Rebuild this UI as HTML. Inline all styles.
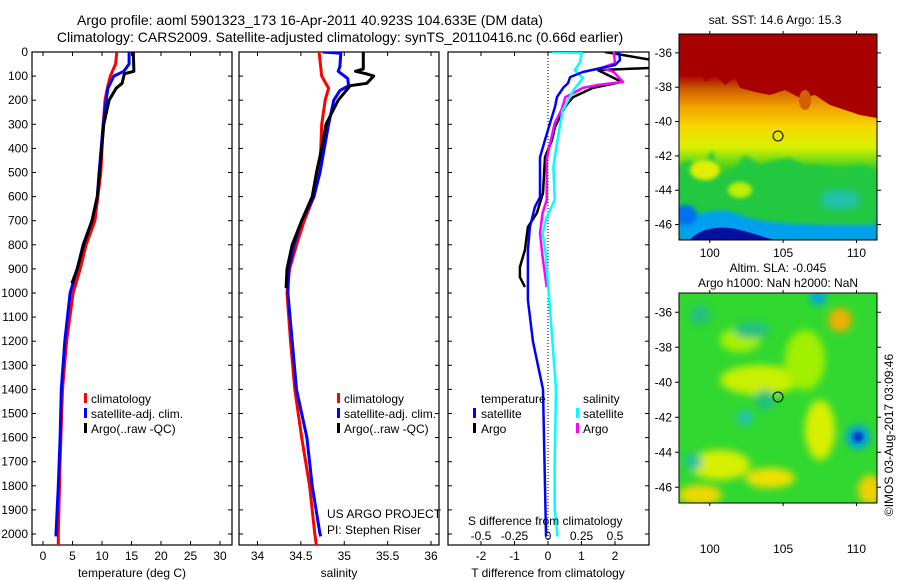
<!DOCTYPE html>
<html><head><meta charset="utf-8"><style>
body{margin:0;background:#fff;}
svg{display:block;font-family:"Liberation Sans",sans-serif;}
text{font-size:12px;fill:#000;}
</style></head><body>
<svg id="fig" width="900" height="580" viewBox="0 0 900 580">
<defs>
<filter id="bl" x="-20%" y="-20%" width="140%" height="140%"><feGaussianBlur stdDeviation="4"/></filter>
<filter id="bl2" x="-20%" y="-20%" width="140%" height="140%"><feGaussianBlur stdDeviation="2"/></filter>
<clipPath id="cp1"><rect x="32" y="52" width="200" height="493"/></clipPath>
<clipPath id="cp2"><rect x="239" y="52" width="200" height="493"/></clipPath>
<clipPath id="cp3"><rect x="448" y="52" width="201" height="493"/></clipPath>
<clipPath id="cm1"><rect x="679" y="34" width="198" height="206"/></clipPath>
<clipPath id="cm2"><rect x="679" y="293" width="198" height="210"/></clipPath>
<linearGradient id="sst" x1="0" y1="0" x2="0" y2="1">
<stop offset="0" stop-color="#a80000"/><stop offset="0.2" stop-color="#a80000"/>
<stop offset="0.27" stop-color="#d06000"/><stop offset="0.35" stop-color="#f0a000"/>
<stop offset="0.45" stop-color="#f8d800"/><stop offset="0.55" stop-color="#d8f000"/>
<stop offset="0.65" stop-color="#40d020"/><stop offset="0.8" stop-color="#10c040"/>
<stop offset="0.87" stop-color="#20c0a0"/><stop offset="0.93" stop-color="#0080f0"/>
<stop offset="1" stop-color="#0010a0"/></linearGradient>
</defs>
<g>
<text x="310" y="25" text-anchor="middle" style="font-size:14px">Argo profile: aoml 5901323_173 16-Apr-2011 40.923S 104.633E (DM data)</text>
<text x="340" y="42" text-anchor="middle" style="font-size:14px">Climatology: CARS2009. Satellite-adjusted climatology: synTS_20110416.nc (0.66d earlier)</text>
</g>
<g id="axes"></g>
<g id="series"></g>
<g>
<g clip-path="url(#cm1)">
<rect x="679" y="34" width="198" height="206" fill="url(#sst)"/>
<path d="M679,60 L690,58 L692,75 L700,72 L705,82 L715,75 L725,85 L735,78 L740,88 L755,92 L770,95 L785,90 L800,98 L815,95 L830,105 L845,110 L860,115 L877,118 L877,34 L679,34Z" fill="#a80000"/>
<path d="M679,165 L690,160 L700,172 L712,150 L720,175 L735,168 L745,155 L760,165 L775,160 L790,158 L805,165 L820,165 L840,168 L860,165 L877,170 L877,240 L679,240Z" fill="#20c840" filter="url(#bl2)"/>
<path d="M679,218 C700,215 720,205 740,215 C770,225 800,225 877,225 L877,240 L679,240Z" fill="#00a0f0" filter="url(#bl2)"/>
<path d="M690,240 C700,228 720,225 740,230 C760,235 770,240 780,240Z" fill="#0010a0"/>
<ellipse cx="685" cy="215" rx="12" ry="10" fill="#0070f0" filter="url(#bl2)"/>
<ellipse cx="840" cy="200" rx="20" ry="10" fill="#20c0b0" filter="url(#bl)"/>
<ellipse cx="705" cy="170" rx="15" ry="10" fill="#e0f000" filter="url(#bl2)"/>
<ellipse cx="740" cy="190" rx="12" ry="8" fill="#c0f000" filter="url(#bl2)"/>
<ellipse cx="805" cy="100" rx="6" ry="10" fill="#d06000"/>
</g>
<rect x="679" y="34" width="198" height="206" fill="none" stroke="#000"/>
<circle cx="778" cy="136" r="5" fill="none" stroke="#000"/>
<text x="775" y="24" text-anchor="middle">sat. SST: 14.6 Argo: 15.3</text>
</g>
<g>
<g clip-path="url(#cm2)">
<rect x="679" y="293" width="198" height="210" fill="#30d830"/>
<g filter="url(#bl)">
<ellipse cx="740" cy="340" rx="20" ry="12" fill="#a8f000"/>
<ellipse cx="760" cy="380" rx="40" ry="15" fill="#c8f000"/>
<ellipse cx="720" cy="465" rx="30" ry="15" fill="#d8f000"/>
<ellipse cx="700" cy="495" rx="22" ry="10" fill="#f0d800"/>
<ellipse cx="770" cy="478" rx="25" ry="10" fill="#f0e000"/>
<ellipse cx="820" cy="430" rx="15" ry="30" fill="#d8f000"/>
<ellipse cx="840" cy="320" rx="12" ry="12" fill="#f0b000"/>
<ellipse cx="870" cy="490" rx="12" ry="15" fill="#f0d000"/>
<ellipse cx="805" cy="360" rx="20" ry="30" fill="#a0f000"/>
<ellipse cx="700" cy="315" rx="10" ry="10" fill="#20c080"/>
<ellipse cx="752" cy="330" rx="18" ry="8" fill="#20c080"/>
<ellipse cx="765" cy="400" rx="10" ry="10" fill="#20c080"/>
<ellipse cx="745" cy="418" rx="7" ry="8" fill="#20c0c0"/>
<ellipse cx="693" cy="462" rx="9" ry="8" fill="#20c0a0"/>
<ellipse cx="818" cy="298" rx="8" ry="7" fill="#00a0f0"/>
<ellipse cx="858" cy="437" rx="12" ry="12" fill="#00a0e0"/>
</g>
<circle cx="858" cy="437" r="5" fill="#0030c0" filter="url(#bl2)"/>
</g>
<rect x="679" y="293" width="198" height="210" fill="none" stroke="#000"/>
<circle cx="778" cy="397" r="5" fill="none" stroke="#000"/>
<text x="778" y="272" text-anchor="middle">Altim. SLA: -0.045</text>
<text x="778" y="287" text-anchor="middle">Argo h1000: NaN h2000: NaN</text>
<text transform="translate(893,435) rotate(-90)" text-anchor="middle">©IMOS 03-Aug-2017 03:09:46</text>
</g>
<g>
<rect x="84" y="393" width="3" height="10" fill="#f00"/><text x="91" y="403">climatology</text>
<rect x="84" y="408" width="3" height="10" fill="#00f"/><text x="91" y="418">satellite-adj. clim.</text>
<rect x="84" y="423" width="3" height="10" fill="#000"/><text x="91" y="433">Argo(..raw -QC)</text>
</g>
<g>
<rect x="337" y="393" width="3" height="10" fill="#f00"/><text x="344" y="403">climatology</text>
<rect x="337" y="408" width="3" height="10" fill="#00f"/><text x="344" y="418">satellite-adj. clim.</text>
<rect x="337" y="423" width="3" height="10" fill="#000"/><text x="344" y="433">Argo(..raw -QC)</text>
<text x="327" y="518">US ARGO PROJECT</text>
<text x="327" y="534">PI: Stephen Riser</text>
</g>
<g>
<text x="481" y="403">temperature</text><text x="583" y="403">salinity</text>
<rect x="473" y="408" width="3" height="10" fill="#00f"/><text x="481" y="418">satellite</text>
<rect x="473" y="423" width="3" height="10" fill="#000"/><text x="481" y="433">Argo</text>
<rect x="576" y="408" width="3" height="10" fill="#0ff"/><text x="583" y="418">satellite</text>
<rect x="576" y="423" width="3" height="10" fill="#f0f"/><text x="583" y="433">Argo</text>
<text x="468" y="525">S difference from climatology</text>
</g>
</svg>
<script>
const depthTicks=[0,100,200,300,400,500,600,700,800,900,1000,1100,1200,1300,1400,1500,1600,1700,1800,1900,2000];
const tempTicks=[0,5,10,15,20,25,30];
const salTicks=[34,34.5,35,35.5,36];
const tdiffTicks=[-2,-1,0,1,2];
const sdiffTicks=[-0.5,-0.25,0,0.25,0.5];
const tClimDepth=[0,50,100,150,200,300,500,600,700,800,900,1000,1200,1400,1700,2000,2050];
const tClimVal=[12.5,12.3,11.4,10.9,10.5,10.2,9.8,9.3,8.8,7.3,6.3,5.1,4.0,3.3,2.9,2.6,2.6];
const tSatDepth=[0,50,80,100,150,200,300,500,600,700,800,900,1000,1200,1400,1600,1800,2000,2010];
const tSatVal=[14.6,14.6,13.7,12.0,11.0,10.7,10.2,9.5,9.2,8.3,6.8,5.8,4.6,3.7,3.1,2.9,2.6,2.2,2.2];
const tArgoDepth=[0,80,90,100,130,150,200,300,500,600,700,800,900,960];
const tArgoVal=[15.3,15.4,13.8,13.7,13.4,12.4,11.2,10.3,9.6,9.2,8.3,6.9,5.8,4.9];
const sClimDepth=[0,100,150,200,300,400,500,600,700,800,900,1000,1200,1400,1600,1800,2000,2050];
const sClimVal=[34.71,34.74,34.82,34.78,34.74,34.73,34.71,34.65,34.54,34.45,34.37,34.34,34.38,34.43,34.51,34.6,34.66,34.68];
const sSatDepth=[0,5,60,80,110,140,160,200,300,400,500,600,700,800,900,1000,1400,1600,1800,2000,2010];
const sSatVal=[34.75,34.96,34.95,34.93,35.04,35.05,34.95,34.88,34.82,34.77,34.72,34.65,34.51,34.42,34.36,34.35,34.45,34.57,34.63,34.72,34.73];
const sArgoDepth=[0,70,80,90,100,130,140,200,300,400,500,600,700,800,900,980];
const sArgoVal=[35.22,35.22,35.13,35.25,35.34,35.26,35.07,34.93,34.79,34.74,34.68,34.63,34.51,34.40,34.34,34.33];
const dTSatDepth=[0,33,54,83,104,129,149,187,228,295,365,436,602,643,726,822,1029,1200,1400,1600,2000,2010];
const dTSatVal=[2.12,2.15,2.0,1.04,0.66,0.6,0.45,0.27,0.21,0.06,-0.09,-0.24,-0.24,-0.39,-0.54,-0.6,-0.6,-0.45,-0.15,-0.12,-0.06,-0.06];
const dTArgoDepth=[0,33,66,75,124,149,187,228,311,365,436,585,668,726,822,892,934,975];
const dTArgoVal=[1.7,3.1,3.1,1.49,2.2,1.34,0.75,0.5,0.21,0.12,-0.09,-0.15,-0.33,-0.6,-0.69,-0.84,-0.84,-0.69];
const dSSatDepth=[0,4,41,75,108,158,241,365,477,614,685,751,822,1029,1400,1700,1900,2000,2010];
const dSSatVal=[0.03,0.25,0.24,0.2,0.26,0.19,0.11,0.07,0.04,0.05,-0.01,-0.04,-0.02,0.01,0.06,0.05,0.05,0.07,0.07];
const dSArgoDepth=[0,46,66,83,124,137,149,170,187,241,295,394,448,614,668,751,851,975];
const dSArgoVal=[0.49,0.5,0.4,0.49,0.56,0.37,0.26,0.19,0.13,0.1,0.05,0.01,-0.01,-0.01,-0.04,-0.06,-0.04,-0.01];

const NS='http://www.w3.org/2000/svg';
const yD=d=>52+d*0.241;
const xT=v=>43+v*5.9;
const xS=v=>257.5+(v-34)*86.75;
const xDT=v=>548+v*33.5;
const xDS=v=>548+v*134;
const axes=document.getElementById('axes'), series=document.getElementById('series');
function mk(tag,attrs,parent){const e=document.createElementNS(NS,tag);for(const k in attrs)e.setAttribute(k,attrs[k]);parent.appendChild(e);return e;}
const panels=[{x:32,w:200,name:'temperature-panel'},{x:239,w:200,name:'salinity-panel'},{x:448,w:201,name:'difference-panel'}];
panels.forEach(p=>{
  const r=mk('rect',{x:p.x,y:52,width:p.w,height:493,fill:'none',stroke:'#000','stroke-width':1.2},axes);
  
  
  depthTicks.forEach(d=>{
    mk('line',{x1:p.x,x2:p.x+4,y1:yD(d),y2:yD(d),stroke:'#000'},axes);
    mk('line',{x1:p.x+p.w,x2:p.x+p.w-4,y1:yD(d),y2:yD(d),stroke:'#000'},axes);
  });
});
depthTicks.forEach(d=>{
  const t=mk('text',{x:28,y:yD(d)+4,'text-anchor':'end'},axes);t.textContent=d;
  
  
});
function xticks(ticks,fx,ly){ticks.forEach(v=>{const x=fx(v);
  mk('line',{x1:x,x2:x,y1:545,y2:541,stroke:'#000'},axes);mk('line',{x1:x,x2:x,y1:52,y2:56,stroke:'#000'},axes);
  const t=mk('text',{x:x,y:ly,'text-anchor':'middle'},axes);t.textContent=v;
  
  
});}
xticks(tempTicks,xT,560);
xticks(salTicks,xS,560);
xticks(tdiffTicks,xDT,560);
sdiffTicks.forEach(v=>{const t=mk('text',{x:xDS(v),y:540,'text-anchor':'middle'},axes);t.textContent=v;
  
  });
[[132,'temperature (deg C)'],[339,'salinity'],[548,'T difference from climatology']].forEach(a=>{
  const t=mk('text',{x:a[0],y:577,'text-anchor':'middle'},axes);t.textContent=a[1];
  
  });
const zl=mk('line',{x1:xDT(0),x2:xDT(0),y1:52,y2:545,stroke:'#000','stroke-dasharray':'1,2'},axes);


function mapAxes(y0,y1,latTop,latBot,lonY){
  const yl=v=>y0+(latTop-v)*(y1-y0)/(latTop-latBot);
  const xl=v=>679+(v-97.9)*198/(111.4-97.9);
  [-36,-38,-40,-42,-44,-46].forEach(v=>{const y=yl(v);
    mk('line',{x1:679,x2:675,y1:y,y2:y,stroke:'#000'},axes);mk('line',{x1:877,x2:881,y1:y,y2:y,stroke:'#000'},axes);
    const t=mk('text',{x:672,y:y+4,'text-anchor':'end'},axes);t.textContent=v;
    
    });
  [100,105,110].forEach(v=>{const x=xl(v);
    mk('line',{x1:x,x2:x,y1:y0,y2:y0-3,stroke:'#000'},axes);mk('line',{x1:x,x2:x,y1:y1,y2:y1+3,stroke:'#000'},axes);
    const t=mk('text',{x:x,y:lonY,'text-anchor':'middle'},axes);t.textContent=v;
    
    });
}
mapAxes(34,240,-34.9,-46.9,257);
mapAxes(293,503,-34.9,-46.9,553);
function line(dep,val,fx,color,w,clip,name){
  const pts=dep.map((d,i)=>fx(val[i]).toFixed(1)+','+yD(d).toFixed(1)).join(' ');
  const e=mk('polyline',{points:pts,fill:'none',stroke:color,'stroke-width':w,'clip-path':'url(#'+clip+')','stroke-linejoin':'round'},series);
  
  
}
line(tClimDepth,tClimVal,xT,'#f00',3,'cp1','temp-climatology-line');
line(tSatDepth,tSatVal,xT,'#00f',3,'cp1','temp-satellite-line');
line(tArgoDepth,tArgoVal,xT,'#000',3,'cp1','temp-argo-line');
line(sClimDepth,sClimVal,xS,'#f00',3,'cp2','sal-climatology-line');
line(sSatDepth,sSatVal,xS,'#00f',3,'cp2','sal-satellite-line');
line(sArgoDepth,sArgoVal,xS,'#000',3,'cp2','sal-argo-line');
line(dTArgoDepth,dTArgoVal,xDT,'#000',2.5,'cp3','tdiff-argo-line');
line(dSArgoDepth,dSArgoVal,xDS,'#f0f',2.5,'cp3','sdiff-argo-line');
line(dSSatDepth,dSSatVal,xDS,'#0ff',2.5,'cp3','sdiff-satellite-line');
line(dTSatDepth,dTSatVal,xDT,'#00f',2.5,'cp3','tdiff-satellite-line');
</script>
</body></html>
